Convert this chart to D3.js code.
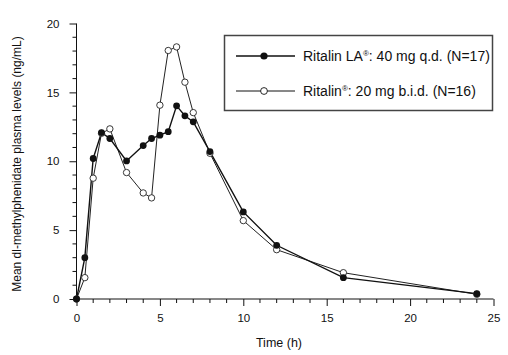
<!DOCTYPE html>
<html><head><meta charset="utf-8">
<script src="https://cdn.jsdelivr.net/npm/d3@7"></script>
<style>
body{margin:0;background:#fff;}
svg{display:block;font-family:"Liberation Sans",Arial,Helvetica,sans-serif;}
</style></head>
<body><svg id="c" width="508" height="355"></svg>
<script>
const times = [0,0.5,1,1.5,2,3,4,4.5,5,5.5,6,6.5,7,8,10,12,16,24];
const ritalinLA = [0,3.0,10.2,12.08,11.65,10.02,11.14,11.65,11.89,12.15,14.02,13.3,12.86,10.7,6.32,3.9,1.55,0.39];
const ritalinIR = [0,1.55,8.77,12.03,12.35,9.18,7.7,7.34,14.07,18.04,18.3,15.74,13.53,10.58,5.69,3.58,1.91,0.34];
const xTicks = [0,5,10,15,20,25];
const yTicks = [0,5,10,15,20];
const legendLabels = ["Ritalin LA", ": 40 mg q.d. (N=17)", "Ritalin", ": 20 mg b.i.d. (N=16)"];

const svg = d3.select("#c");
const x = d3.scaleLinear().domain([0,25]).range([76.5,493.5]);
const y = d3.scaleLinear().domain([0,20]).range([299,23.5]);
const ink = "#111";

// axes
const xAxis = d3.axisBottom(x).tickValues(xTicks).tickSize(7).tickPadding(8).tickFormat(d3.format("d"));
const gx = svg.append("g").attr("transform",`translate(0,${y(0)})`).call(xAxis);
gx.append("g").selectAll("line").data(d3.range(0,26).filter(d=>d%5)).join("line")
  .attr("x1",d=>x(d)).attr("x2",d=>x(d)).attr("y1",0).attr("y2",4).attr("stroke",ink);
const yAxis = d3.axisLeft(y).tickValues(yTicks).tickSize(7).tickPadding(10);
const gy = svg.append("g").attr("transform",`translate(${x(0)},0)`).call(yAxis);
gy.append("g").selectAll("line").data(d3.range(0,21).filter(d=>d%5)).join("line")
  .attr("y1",d=>y(d)).attr("y2",d=>y(d)).attr("x1",0).attr("x2",-4).attr("stroke",ink);
[gx,gy].forEach(g=>{
  g.select(".domain").attr("stroke",ink).attr("d", g===gx ? `M${x(0)},0H${x(25)}` : `M0,${y(0)}V${y(20)}`);
  g.selectAll(".tick line").attr("stroke",ink);
  g.selectAll("text").attr("fill",ink).style("font-size","11.5px").style("font-family","Liberation Sans, Arial, sans-serif");
});

svg.append("text").attr("x",279).attr("y",347).attr("text-anchor","middle")
  .style("font-size","12.5px").attr("fill",ink).text("Time (h)");
svg.append("text").attr("transform",`translate(21,164) rotate(-90)`).attr("text-anchor","middle")
  .style("font-size","12px").attr("fill",ink).text("Mean dl-methylphenidate plasma levels (ng/mL)");

const line = d3.line().x((d,i)=>x(times[i])).y(d=>y(d));
svg.append("path").datum(ritalinIR).attr("d",line).attr("fill","none").attr("stroke","#222").attr("stroke-width",1);
svg.append("path").datum(ritalinLA).attr("d",line).attr("fill","none").attr("stroke","#111").attr("stroke-width",1.4);
svg.append("g").selectAll("circle").data(ritalinIR).join("circle")
  .attr("cx",(d,i)=>x(times[i])).attr("cy",d=>y(d)).attr("r",3.2)
  .attr("fill","#fff").attr("stroke","#222").attr("stroke-width",0.9);
svg.append("g").selectAll("circle").data(ritalinLA).join("circle")
  .attr("cx",(d,i)=>x(times[i])).attr("cy",d=>y(d)).attr("r",3.4).attr("fill","#111");

// legend
const lg = svg.append("g");
lg.append("rect").attr("x",224.5).attr("y",35.5).attr("width",268).attr("height",75)
  .attr("fill","#fff").attr("stroke","#444").attr("stroke-width",1.5);
[[56,true],[91,false]].forEach(([ly,filled],k)=>{
  lg.append("line").attr("x1",236).attr("x2",295).attr("y1",ly).attr("y2",ly).attr("stroke","#111").attr("stroke-width",filled?1.4:1);
  lg.append("circle").attr("cx",264).attr("cy",ly).attr("r",filled?3.6:3.4)
    .attr("fill",filled?"#111":"#fff").attr("stroke","#111").attr("stroke-width",filled?0:0.9);
  const t = lg.append("text").attr("x",303).attr("y",ly+5).style("font-size","14px").attr("fill",ink);
  t.append("tspan").text(legendLabels[k*2]);
  t.append("tspan").attr("dy",-5).style("font-size","8px").text("®");
  t.append("tspan").attr("dy",5).text(legendLabels[k*2+1]);
});
</script></body></html>
